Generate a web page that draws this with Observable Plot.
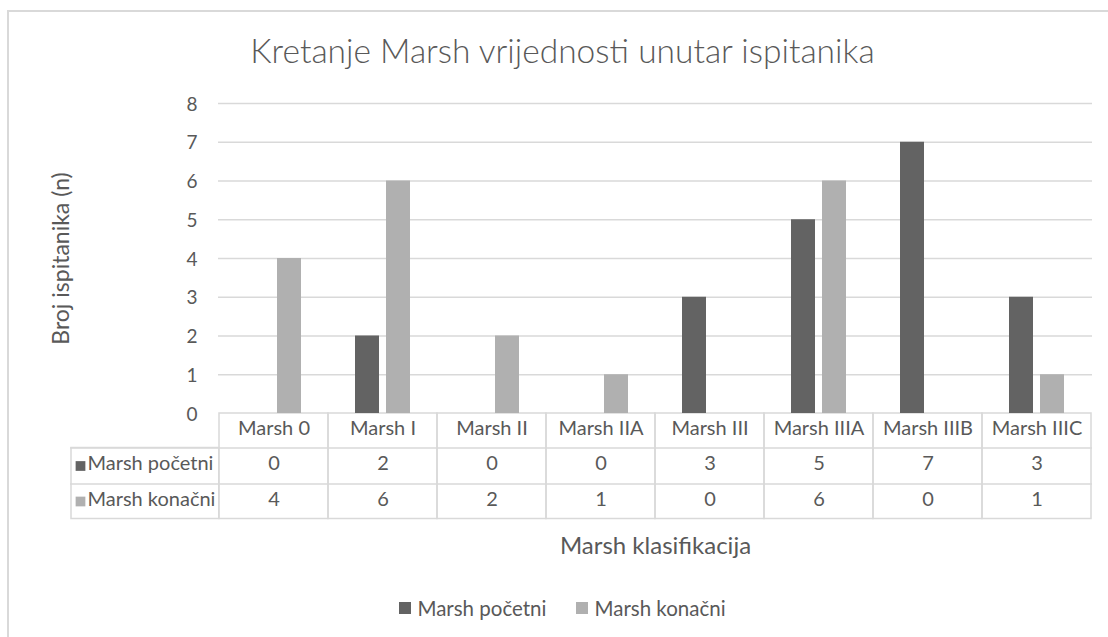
<!DOCTYPE html>
<html>
<head>
<meta charset="utf-8">
<script src="https://cdn.jsdelivr.net/npm/d3@7"></script>
<script src="https://cdn.jsdelivr.net/npm/@observablehq/plot@0.6"></script>
<style>
  body { margin: 0; background: #fff; font-family: Lato, sans-serif; }
  #wrap { position: relative; width: 1108px; height: 637px; overflow: hidden; background: #fff; }
  #border { position: absolute; left: 7px; top: 10px; width: 1200px; height: 700px;
            border-left: 2px solid #d9d9d9; border-top: 2px solid #d9d9d9; }
  #title { position: absolute; left: 17px; right: 0; top: 29px; text-align: center;
           font-size: 33.5px; font-weight: 300; color: #595959; white-space: nowrap; line-height: 42px; }
  #chart { position: absolute; left: 0; top: 80px; }
  #legend { position: absolute; left: 0; right: 0; top: 593px; margin-left: 17px; text-align: center;
            font-size: 20.5px; color: #595959; white-space: nowrap; line-height: 26px; }
  .item { display: inline-flex; align-items: center; margin: 0 15px; }
  .sw { display: inline-block; width: 12px; height: 12px; margin-right: 6px; }
</style>
</head>
<body>
<div id="wrap">
  <div id="border"></div>
  <div id="title"></div>
  <div id="chart"></div>
  <div id="legend"></div>
</div>
<script>
const chartTitle = "Kretanje Marsh vrijednosti unutar ispitanika";
const yTitle = "Broj ispitanika (n)";
const xTitle = "Marsh klasifikacija";
const categories = ["Marsh 0", "Marsh I", "Marsh II", "Marsh IIA", "Marsh III", "Marsh IIIA", "Marsh IIIB", "Marsh IIIC"];
const seriesNames = ["Marsh početni", "Marsh konačni"];
const pocetni = [0, 2, 0, 0, 3, 5, 7, 3];
const konacni = [4, 6, 2, 1, 0, 6, 0, 1];
const yTicks = [0, 1, 2, 3, 4, 5, 6, 7, 8];
const colors = ["#636363", "#b0b0b0"];

const rows = categories.map((c, i) => ({category: c, pocetni: pocetni[i], konacni: konacni[i]}));

const textColor = "#595959";
const lineColor = "#d9d9d9";
const labelCol = 148;
const fix = 4; // vertical optical correction for Lato

document.getElementById("title").textContent = chartTitle;

const chart = Plot.plot({
  width: 1108,
  height: 500,
  marginLeft: 218,
  marginRight: 16,
  marginTop: 23,
  marginBottom: 167,
  style: {fontFamily: "Lato, sans-serif", fontSize: "19px", color: textColor, background: "transparent", overflow: "visible"},
  x: {domain: categories, padding: 0, axis: null},
  y: {domain: [0, 8], axis: null},
  marks: [
    Plot.ruleY(yTicks.filter(t => t > 0), {stroke: lineColor, strokeWidth: 1.5}),
    Plot.text(yTicks, {y: d => d, frameAnchor: "left", textAnchor: "end", dx: -21, dy: 1, fontSize: 19, fill: textColor}),
    // table cells (columns)
    Plot.barY(categories, {x: d => d, y1: 0, y2: 0, insetBottom: -105.5, fill: "none", stroke: lineColor, strokeWidth: 1.5}),
    // label column box for series rows
    Plot.barY([categories[0]], {x: d => d, y1: 0, y2: 0, insetTop: 34.5, insetBottom: -105.5, insetLeft: -labelCol, insetRight: 109.25, fill: "none", stroke: lineColor, strokeWidth: 1.5}),
    Plot.ruleY([0], {dy: 34.5, insetLeft: -labelCol, stroke: lineColor, strokeWidth: 1.5}),
    Plot.ruleY([0], {dy: 70.5, insetLeft: -labelCol, stroke: lineColor, strokeWidth: 1.5}),
    // bars
    Plot.barY(rows, {x: "category", y: "pocetni", fill: colors[0], insetLeft: 27, insetRight: 58}),
    Plot.barY(rows, {x: "category", y: "konacni", fill: colors[1], insetLeft: 58, insetRight: 27}),
    // table header row (category labels)
    Plot.text(categories, {x: d => d, frameAnchor: "bottom", dy: 17.5 + fix, fontSize: 20, fill: textColor}),
    // table values
    Plot.text(rows, {x: "category", text: d => String(d.pocetni), frameAnchor: "bottom", dy: 52.5 + fix, fontSize: 20, fill: textColor}),
    Plot.text(rows, {x: "category", text: d => String(d.konacni), frameAnchor: "bottom", dy: 88 + fix, fontSize: 20, fill: textColor}),
    // row labels with keys
    Plot.dot([seriesNames[0]], {frameAnchor: "bottom-left", dx: -labelCol + 10, dy: 52.5, symbol: "square", r: 5.5, fill: colors[0], stroke: null}),
    Plot.dot([seriesNames[1]], {frameAnchor: "bottom-left", dx: -labelCol + 10, dy: 88, symbol: "square", r: 5.5, fill: colors[1], stroke: null}),
    Plot.text([seriesNames[0]], {frameAnchor: "bottom-left", textAnchor: "start", dx: -labelCol + 17, dy: 52.5 + fix, fontSize: 20, fill: textColor}),
    Plot.text([seriesNames[1]], {frameAnchor: "bottom-left", textAnchor: "start", dx: -labelCol + 17, dy: 88 + fix, fontSize: 20, fill: textColor}),
    // axis titles
    Plot.text([xTitle], {frameAnchor: "bottom", dy: 136 + fix, fontSize: 24, fill: textColor}),
    Plot.text([yTitle], {frameAnchor: "left", textAnchor: "middle", rotate: -90, dx: -161 + fix, fontSize: 23, fill: textColor})
  ]
});
document.getElementById("chart").appendChild(chart);

const legend = document.getElementById("legend");
seriesNames.forEach((name, i) => {
  const item = document.createElement("span");
  item.className = "item";
  const sw = document.createElement("span");
  sw.className = "sw";
  sw.style.background = colors[i];
  item.appendChild(sw);
  item.appendChild(document.createTextNode(name));
  legend.appendChild(item);
});
</script>
</body>
</html>
